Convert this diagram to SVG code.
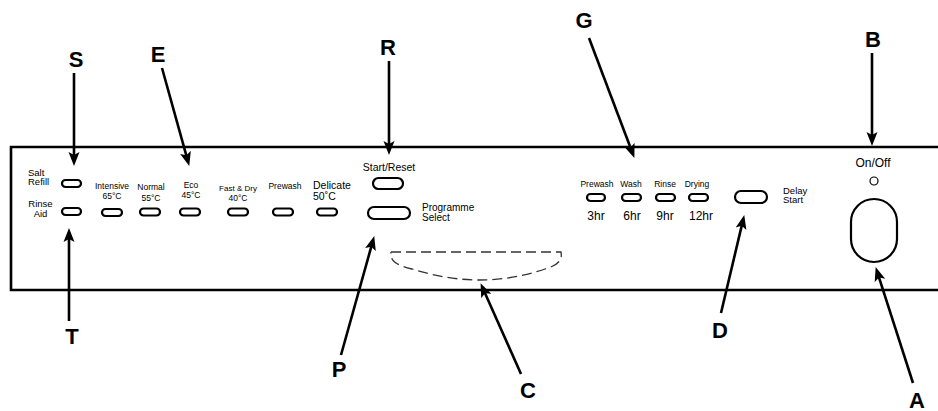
<svg xmlns="http://www.w3.org/2000/svg" width="938" height="411" viewBox="0 0 938 411">
<style>
.lbl{font-family:"Liberation Sans",Arial,sans-serif;font-weight:bold;font-size:22px;text-anchor:middle;fill:#000}
.t{font-family:"Liberation Sans",Arial,sans-serif;fill:#000}
.s{font-size:8.5px}
.m{font-size:9.5px}
.c{text-anchor:middle}
.btn{fill:#fff;stroke:#000;stroke-width:2.2}
.ar{stroke:#000;stroke-width:2.6;fill:none;marker-end:url(#ah)}
</style>
<defs>
<marker id="ah" markerUnits="userSpaceOnUse" markerWidth="14" markerHeight="12" viewBox="0 0 14 12" refX="9" refY="6" orient="auto">
<path d="M0,0.5 L14,6 L0,11.5 L3,6 z" fill="#000"/>
</marker>
</defs>
<rect width="938" height="411" fill="#fff"/>
<g id="panel">
<path d="M938,147 H11 V290 H938" fill="none" stroke="#000" stroke-width="2.6"/>
</g>
<g id="display">
<path d="M391,252 H561 C563,262 555,266 545,269 Q481,291 412,269 C397,265 390,262 391,252" fill="none" stroke="#333" stroke-width="1.3" stroke-dasharray="10,5"/>
</g>
<g id="salt">
<text class="t m" x="28" y="175.5">Salt</text>
<text class="t m" x="28" y="185">Refill</text>
<rect class="btn" x="62" y="180" width="19" height="7" rx="3.5"/>
</g>
<g id="rinse">
<text class="t m c" x="40.5" y="206.5">Rinse</text>
<text class="t m c" x="40.5" y="217">Aid</text>
<rect class="btn" x="62" y="208" width="19" height="7" rx="3.5"/>
</g>
<g id="intensive">
<text class="t s c" x="112" y="189">Intensive</text>
<text class="t s c" x="112" y="199">65°C</text>
<rect class="btn" x="102" y="209" width="20" height="7" rx="3.5"/>
</g>
<g id="normal">
<text class="t s c" x="151" y="190">Normal</text>
<text class="t s c" x="151" y="200.5">55°C</text>
<rect class="btn" x="140" y="208.5" width="20" height="7" rx="3.5"/>
</g>
<g id="eco">
<text class="t s c" x="191" y="188">Eco</text>
<text class="t s c" x="191" y="198">45°C</text>
<rect class="btn" x="180" y="208.5" width="20" height="7" rx="3.5"/>
</g>
<g id="fastdry">
<text class="t c" style="font-size:8px" x="238" y="190.5">Fast &amp; Dry</text>
<text class="t s c" x="238" y="201">40°C</text>
<rect class="btn" x="228" y="208.5" width="20" height="7" rx="3.5"/>
</g>
<g id="prewash">
<text class="t s c" x="285" y="189">Prewash</text>
<rect class="btn" x="273" y="208.5" width="20" height="7" rx="3.5"/>
</g>
<g id="delicate">
<text class="t" style="font-size:10.5px" x="313" y="188.5">Delicate</text>
<text class="t" style="font-size:10.5px" x="313" y="200">50˚C</text>
<rect class="btn" x="317" y="208.5" width="20" height="7" rx="3.5"/>
</g>
<g id="startreset">
<text class="t c" style="font-size:10.5px" x="389" y="171">Start/Reset</text>
<rect class="btn" x="373" y="178" width="30" height="11" rx="5.5"/>
</g>
<g id="programme">
<rect class="btn" x="368" y="207" width="42" height="12" rx="6"/>
<text class="t" style="font-size:10px" x="422" y="210.5">Programme</text>
<text class="t" style="font-size:10px" x="422" y="221">Select</text>
</g>
<g id="delay-prewash">
<text class="t s c" x="597" y="187">Prewash</text>
<rect class="btn" x="587" y="194" width="18" height="7" rx="3.5"/>
<text class="t c" style="font-size:12px" x="596" y="220">3hr</text>
</g>
<g id="delay-wash">
<text class="t s c" x="631" y="187">Wash</text>
<rect class="btn" x="622" y="194" width="19" height="7" rx="3.5"/>
<text class="t c" style="font-size:12px" x="632" y="220">6hr</text>
</g>
<g id="delay-rinse">
<text class="t s c" x="665" y="187">Rinse</text>
<rect class="btn" x="656" y="194" width="19" height="7" rx="3.5"/>
<text class="t c" style="font-size:12px" x="665" y="220">9hr</text>
</g>
<g id="delay-drying">
<text class="t s c" x="697" y="187">Drying</text>
<rect class="btn" x="689" y="194" width="19" height="7" rx="3.5"/>
<text class="t c" style="font-size:12px" x="701" y="220">12hr</text>
</g>
<g id="delaystart">
<rect class="btn" x="735" y="191" width="32" height="12" rx="6"/>
<text class="t m" x="783" y="193.5">Delay</text>
<text class="t m" x="783" y="203">Start</text>
</g>
<g id="onoff">
<text class="t c" style="font-size:12px" x="873" y="167">On/Off</text>
<circle cx="874" cy="181" r="4" fill="#fff" stroke="#000" stroke-width="1.2"/>
<rect class="btn" x="851" y="199" width="46" height="63" rx="23"/>
</g>
<g id="labels">
<text class="lbl" x="76" y="67">S</text>
<text class="lbl" x="158" y="62">E</text>
<text class="lbl" x="388" y="55">R</text>
<text class="lbl" x="584" y="28">G</text>
<text class="lbl" x="873" y="47">B</text>
<text class="lbl" x="72" y="344">T</text>
<text class="lbl" x="339" y="377">P</text>
<text class="lbl" x="528" y="398">C</text>
<text class="lbl" x="720" y="338">D</text>
<text class="lbl" x="917" y="408">A</text>
</g>
<g id="connectors">
<line class="ar" x1="74" y1="73" x2="74" y2="161"/>
<line class="ar" x1="162" y1="68" x2="187.9" y2="161.1"/>
<line class="ar" x1="389" y1="61" x2="389" y2="150"/>
<line class="ar" x1="589" y1="38" x2="632.6" y2="153.3"/>
<line class="ar" x1="872" y1="53" x2="872" y2="141"/>
<line class="ar" x1="69" y1="321" x2="69" y2="233"/>
<line class="ar" x1="341" y1="355" x2="372.9" y2="240.9"/>
<line class="ar" x1="521" y1="374" x2="482.6" y2="287.7"/>
<line class="ar" x1="721" y1="313" x2="743.1" y2="219.9"/>
<line class="ar" x1="913" y1="383" x2="877.2" y2="271.8"/>
</g>
</svg>
